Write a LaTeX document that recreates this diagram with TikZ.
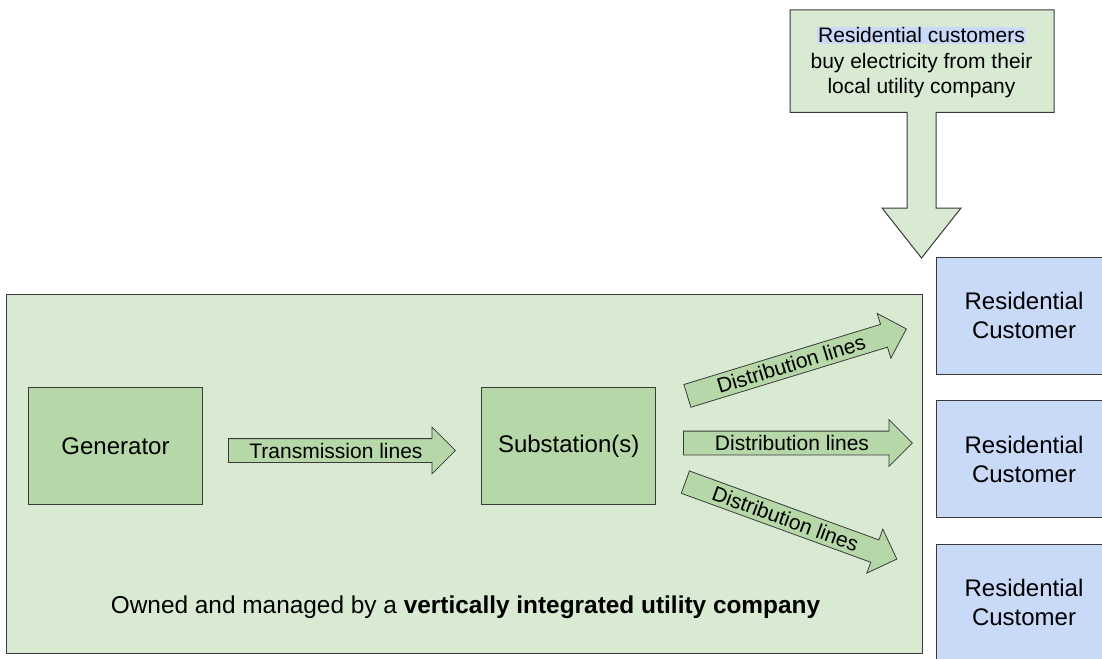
\documentclass[tikz,border=0pt]{standalone}
\usepackage{fontspec}
\setmainfont{Liberation Sans}
\usetikzlibrary{shapes.arrows,calc}

\definecolor{utilgreen}{HTML}{D9EAD3}
\definecolor{boxgreen}{HTML}{B6D7A8}
\definecolor{custblue}{HTML}{C9DAF8}
\definecolor{edge}{HTML}{3A3A3A}

\begin{document}
\begin{tikzpicture}[x=1pt, y=-1pt,
  unitbox/.style={draw=edge, fill=boxgreen, line width=1pt,
    minimum width=174pt, minimum height=117pt,
    font=\fontsize{24}{29}\selectfont},
  custbox/.style={draw=edge, fill=custblue, line width=1pt,
    minimum width=175pt, minimum height=117pt, align=center,
    font=\fontsize{24}{29}\selectfont},
  flowarrow/.style={single arrow, draw=edge, fill=boxgreen, line width=0.8pt,
    single arrow head extend=11.5pt, single arrow tip angle=90,
    text height=17pt, text depth=2pt, inner ysep=2pt, inner xsep=0pt,
    minimum height=229pt, font=\fontsize{21}{25}\selectfont}]
\useasboundingbox (0,0) rectangle (1102,658);

% utility company area
\node [draw=edge, fill=utilgreen, line width=1pt, anchor=north west,
       minimum width=916pt, minimum height=359pt] (utility) at (6,294) {};
\node [font=\fontsize{24.4}{29}\selectfont] (owner) at (465.5,607)
  {Owned and managed by a \textbf{vertically integrated utility company}};

\node [unitbox] (gen) at (115.5,445.8) {Generator};
\node [unitbox] (sub) at (568.7,445.8) {Substation(s)};

\node [flowarrow, anchor=tail, minimum height=227pt] (trans) at (228,450.5) {Transmission lines};

\node [flowarrow, anchor=tail, rotate=17] (dist1) at (687,396) {Distribution lines};
\node [flowarrow, anchor=tail] (dist2) at (683,443) {Distribution lines};
\node [flowarrow, anchor=tail, rotate=-20, minimum height=225pt] (dist3) at (685,482) {Distribution lines};

% customers
\foreach \n/\y in {1/315.7, 2/459.2, 3/602.5}
  \node [custbox] (cust\n) at (1024,\y) {Residential\\Customer};

%%%%%%%%%%%%%%%%%%%%%%%%%%%%%%%%%%%%%%%%

\draw [draw=edge, fill=utilgreen, line width=1pt]
     (790,10)
  -- (1054,10)
  -- (1054,112.5)
  -- (936,112.5)
  -- (936,208)
  -- (961,208)
  -- (921.5,258)
  -- (882,208)
  -- (907,208)
  -- (907,112.5)
  -- (790,112.5)
  -- cycle;
\node [align=center, font=\fontsize{21}{25.5}\selectfont] (buy) at (921.5,62.5)
  {{\setlength{\fboxsep}{1pt}\colorbox{custblue}{Residential customers}}\\
   buy electricity from their\\local utility company};

\end{tikzpicture}
\end{document}
